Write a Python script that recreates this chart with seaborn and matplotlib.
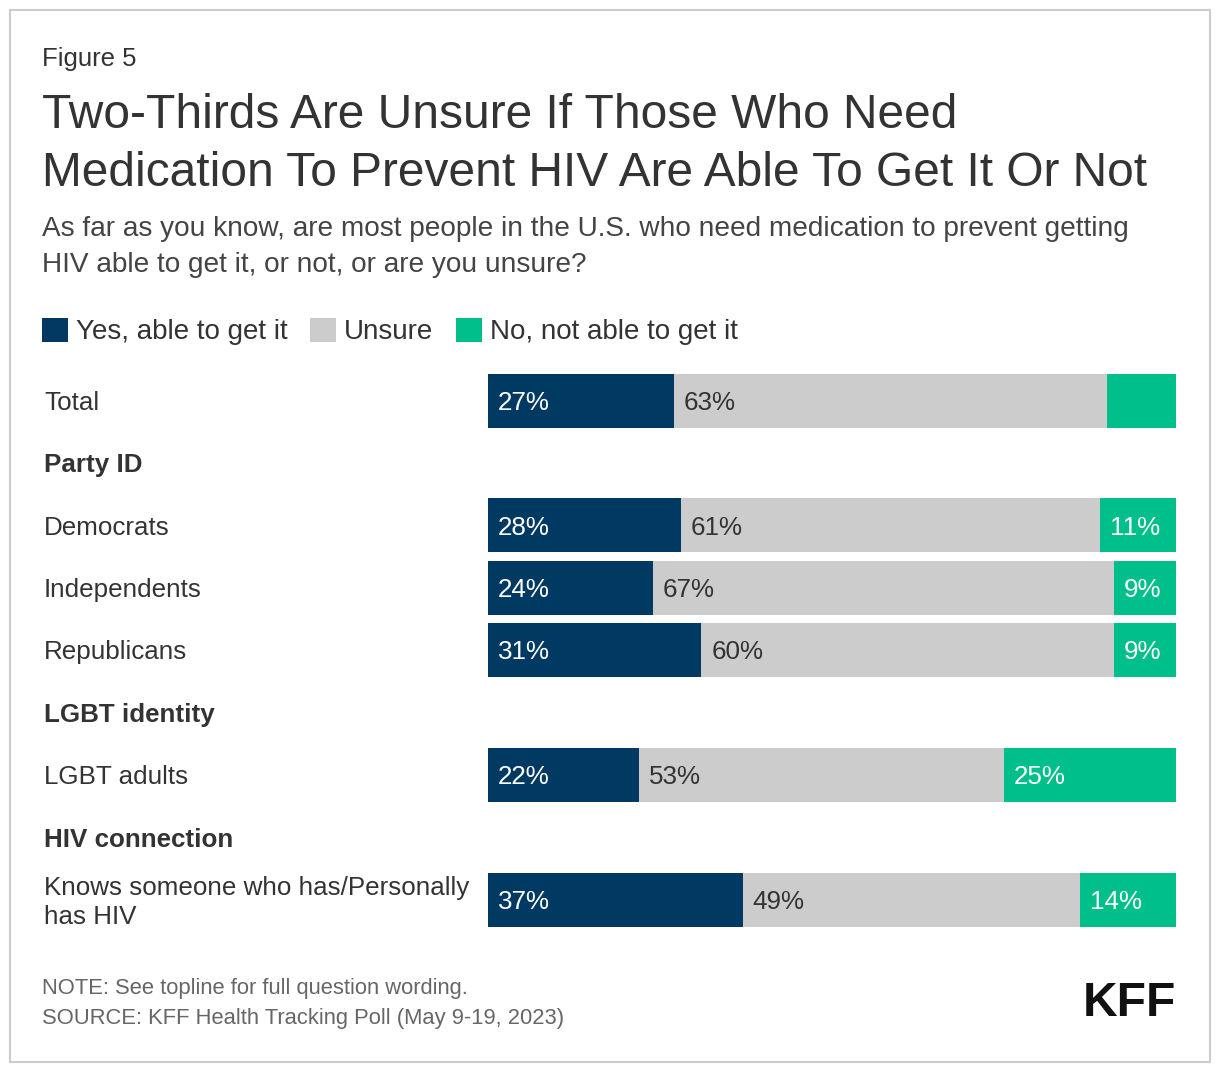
import matplotlib
matplotlib.use("Agg")
import matplotlib.pyplot as plt
import matplotlib.transforms as mtransforms
from matplotlib.patches import Patch, Rectangle
import pandas as pd
import seaborn as sns

# --- DATA ---
rows = ["Total", "Party ID", "Democrats", "Independents", "Republicans",
        "LGBT identity", "LGBT adults", "HIV connection",
        "Knows someone who has/Personally\nhas HIV"]
headers = ["Party ID", "LGBT identity", "HIV connection"]

groups = ["Total", "Democrats", "Independents", "Republicans", "LGBT adults",
          "Knows someone who has/Personally\nhas HIV"]
yes_vals = [27, 28, 24, 31, 22, 37]
unsure_vals = [63, 61, 67, 60, 53, 49]
no_vals = [10, 11, 9, 9, 25, 14]
no_shown = [False, True, True, True, True, True]   # Total's small segment is unlabeled

series = ["Yes, able to get it", "Unsure", "No, not able to get it"]

# --- STYLE ---
NAVY = "#003a63"
GREY = "#cccccc"
GREEN = "#00bf8a"
TEXT = "#333333"
FS = 18.7          # row / value label size (pt)
ROW_PX = 62.4      # row pitch in pixels
CAP_PX = FS * 100 / 72 * 0.716

sns.set_style("white")
plt.rcParams["font.family"] = ["Liberation Sans", "DejaVu Sans"]

df = pd.DataFrame({"group": groups, "yes": yes_vals,
                   "unsure": unsure_vals, "no": no_vals})
df["end_yes"] = df["yes"]
df["end_unsure"] = df["yes"] + df["unsure"]
df["end_no"] = df["end_unsure"] + df["no"]

W, H = 1220, 1074
fig = plt.figure(figsize=(W / 100, H / 100), dpi=100)
top_px = 400.5 - ROW_PX / 2
ax_h = ROW_PX * len(rows)
ax = fig.add_axes([488 / W, 1 - (top_px + ax_h) / H, 688 / W, ax_h / H])

# stacked bars: draw cumulative totals back to front
for col, color in [("end_no", GREEN), ("end_unsure", GREY), ("end_yes", NAVY)]:
    sns.barplot(data=df, x=col, y="group", order=rows, color=color,
                saturation=1, width=54 / ROW_PX, errorbar=None, orient="h",
                linewidth=0, ax=ax)

ax.set_xlim(0, 100)
ax.set_ylim(len(rows) - 0.5, -0.5)
ax.axis("off")


def seg_label(text, x, y, color):
    ax.annotate(text, xy=(x, y), xytext=(10, -CAP_PX / 2),
                textcoords="offset pixels", va="baseline", ha="left",
                color=color, fontsize=FS)


# segment labels
for i, r in df.iterrows():
    y = rows.index(r["group"])
    seg_label(f"{r['yes']}%", 0, y, "white")
    seg_label(f"{r['unsure']}%", r["end_yes"], y, TEXT)
    if no_shown[i]:
        seg_label(f"{r['no']}%", r["end_unsure"], y, "white")

# row labels on the left (baseline of the last line is the anchor)
trans = mtransforms.blended_transform_factory(fig.transFigure, ax.transData)
line_px = 31
for i, name in enumerate(rows):
    n = name.count("\n")
    ax.annotate(name, xy=(44 / W, i), xycoords=trans,
                xytext=(0, -CAP_PX / 2 - n * line_px / 2), textcoords="offset pixels",
                ha="left", va="baseline", fontsize=FS, color=TEXT, linespacing=1.3,
                fontweight="bold" if name in headers else "normal")

# titles
fig.text(42 / W, 1 - 66 / H, "Figure 5", fontsize=18.5, color=TEXT,
         ha="left", va="baseline")
fig.text(42 / W, 1 - 128 / H, "Two-Thirds Are Unsure If Those Who Need",
         fontsize=34.5, color=TEXT, ha="left", va="baseline")
fig.text(42 / W, 1 - 186 / H,
         "Medication To Prevent HIV Are Able To Get It Or Not",
         fontsize=34.5, color=TEXT, ha="left", va="baseline")
fig.text(42 / W, 1 - 236 / H,
         "As far as you know, are most people in the U.S. who need medication to prevent getting",
         fontsize=20.2, color="#444444", ha="left", va="baseline")
fig.text(42 / W, 1 - 272 / H,
         "HIV able to get it, or not, or are you unsure?",
         fontsize=20.2, color="#444444", ha="left", va="baseline")

# legend
handles = [Patch(facecolor=c, edgecolor="none") for c in (NAVY, GREY, GREEN)]
fig.legend(handles, series, loc="upper left",
           bbox_to_anchor=(42 / W, 1 - 318 / H), ncol=3, frameon=False,
           fontsize=20, handlelength=0.94, handleheight=0.94, handletextpad=0.29,
           columnspacing=0.8, borderpad=0, borderaxespad=0,
           labelcolor=TEXT)

# footer
fig.text(42 / W, 1 - 994 / H, "NOTE: See topline for full question wording.",
         fontsize=15.8, color="#666666", ha="left", va="baseline")
fig.text(42 / W, 1 - 1024 / H, "SOURCE: KFF Health Tracking Poll (May 9-19, 2023)",
         fontsize=15.8, color="#666666", ha="left", va="baseline")
fig.text(1176 / W, 1 - 1016 / H, "KFF", fontsize=34.5, fontweight="bold",
         color="#111111", ha="right", va="baseline")

# outer frame
fig.patches.append(Rectangle((10 / W, 1 - 1062 / H), 1200 / W, 1052 / H,
                             transform=fig.transFigure, fill=False,
                             edgecolor="#cccccc", linewidth=1.5))

fig.savefig("out.png", dpi=100)
